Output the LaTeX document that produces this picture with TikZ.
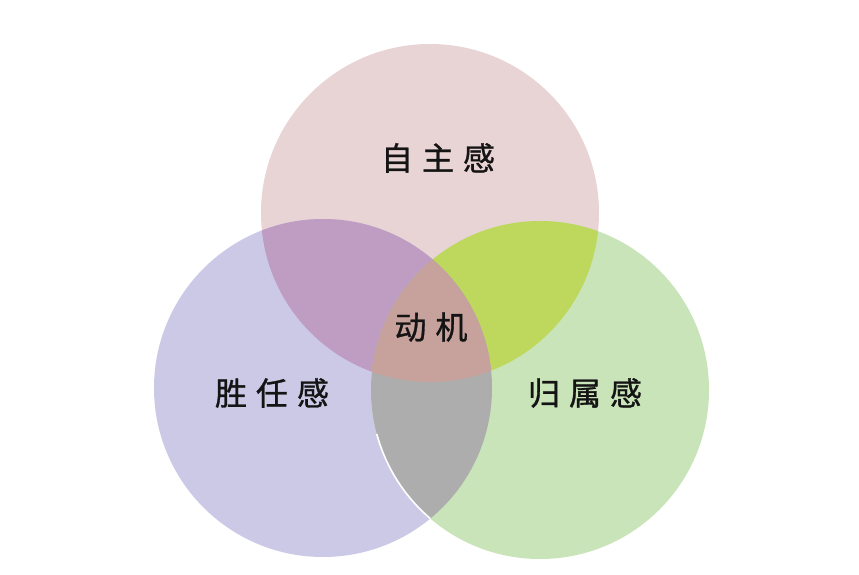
\documentclass[tikz,border=0pt]{standalone}
\usepackage{fontspec}
\newfontfamily\cjk{Noto Sans CJK SC}[FakeBold=1]
\definecolor{cTop}{HTML}{E9D4D5}
\definecolor{cLeft}{HTML}{CCC9E7}
\definecolor{cRight}{HTML}{C9E4B9}
\definecolor{cTL}{HTML}{BF9DC3}
\definecolor{cTR}{HTML}{BDD85C}
\definecolor{cLR}{HTML}{ADADAD}
\definecolor{cAll}{HTML}{C7A29D}
\definecolor{ink}{HTML}{141414}
\tikzset{lbl/.style={font=\cjk\fontsize{32}{36}\selectfont, text=ink, inner sep=0pt}}
\newcommand{\gp}{\hspace{9pt}}
\begin{document}
\begin{tikzpicture}[x=1pt,y=1pt]
\useasboundingbox (0,0) rectangle (859,574);
\fill[white] (0,0) rectangle (859,574);
\def\rr{169}
\coordinate (T) at (430,361);
\coordinate (L) at (323,186);
\coordinate (R) at (540,184);
% base circles
\fill[cTop] (T) circle (\rr);
\fill[cLeft] (L) circle (\rr);
\fill[cRight] (R) circle (\rr);
% pairwise overlaps
\begin{scope}
  \clip (T) circle (\rr);
  \fill[cTL] (L) circle (\rr);
  \fill[cTR] (R) circle (\rr);
\end{scope}
\begin{scope}
  \clip (L) circle (\rr);
  \fill[cLR] (R) circle (\rr);
  \clip (R) circle (\rr);
  \fill[cAll] (T) circle (\rr);
\end{scope}
% thin white rim on the right circle inside the left circle
\begin{scope}
  \clip (L) circle (\rr);
  \clip (0,0) rectangle (859,140);
  \draw[white, line width=1.6pt] (R) circle (\rr);
\end{scope}
% labels
\node[lbl] (zizhu) at (438,416) {自\gp 主\gp 感};
\node[lbl] (dongji) at (431,247) {动\gp 机};
\node[lbl] (shengren) at (272,181) {胜\gp 任\gp 感};
\node[lbl] (guishu) at (585,181) {归\gp 属\gp 感};
\end{tikzpicture}
\end{document}
